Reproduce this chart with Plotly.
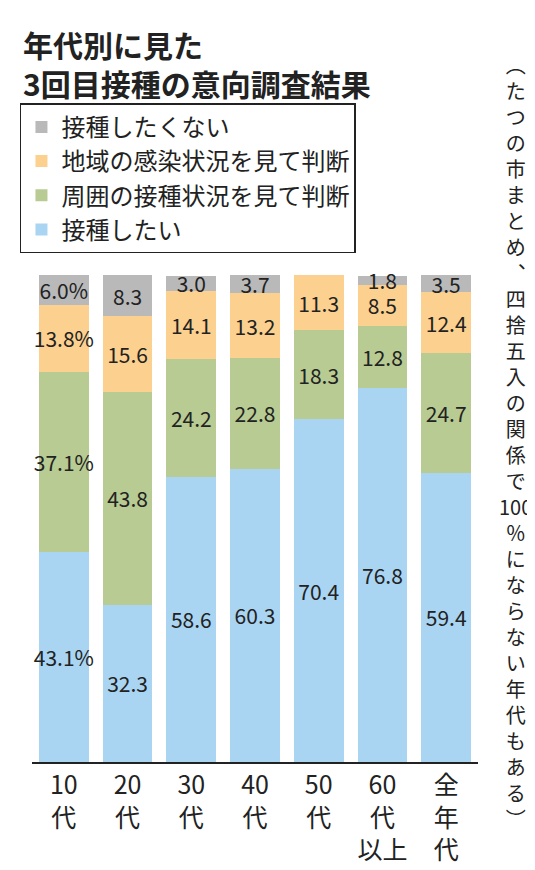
import plotly.graph_objects as go

cats = ["10代", "20代", "30代", "40代", "50代", "60代以上", "全年代"]
tick_labels = ["10<br>代", "20<br>代", "30<br>代", "40<br>代", "50<br>代", "60<br>代<br>以上", "全<br>年<br>代"]
want = [43.1, 32.3, 58.6, 60.3, 70.4, 76.8, 59.4]
around = [37.1, 43.8, 24.2, 22.8, 18.3, 12.8, 24.7]
region = [13.8, 15.6, 14.1, 13.2, 11.3, 8.5, 12.4]
nowant = [6.0, 8.3, 3.0, 3.7, 0, 1.8, 3.5]

series = [
    ("接種したい", want, "#a9d5f2"),
    ("周囲の接種状況を見て判断", around, "#b7cb92"),
    ("地域の感染状況を見て判断", region, "#fcd18f"),
    ("接種したくない", nowant, "#b9b9b9"),
]

F = "Noto Sans CJK JP"
fig = go.Figure()
for name, vals, col in series:
    txt = []
    for i, v in enumerate(vals):
        if v == 0:
            txt.append("")
        elif i == 0:
            txt.append(f"{v:.1f}%")
        else:
            txt.append(f"{v:.1f}")
    fig.add_trace(go.Bar(
        x=cats, y=vals, name=name, marker=dict(color=col, line=dict(width=0)),
        text=txt, textposition="inside", insidetextanchor="middle", textangle=0,
        textfont=dict(family=F, size=21, color="#222"), width=0.78,
        hoverinfo="skip", cliponaxis=False, constraintext="none"))

fig.update_layout(
    barmode="stack", width=535, height=870,
    margin=dict(l=18, r=65, t=265, b=100),
    paper_bgcolor="white", plot_bgcolor="white",
    uniformtext=dict(minsize=20, mode="show"),
    showlegend=True,
    legend=dict(x=-0.027, y=1.347, xanchor="left", yanchor="top",
                traceorder="reversed", bordercolor="#222", borderwidth=1.5,
                font=dict(family=F, size=24, color="#222"), bgcolor="white",
                itemwidth=30, tracegroupgap=0),
    xaxis=dict(tickvals=cats, ticktext=tick_labels, showline=True, linecolor="#222",
               linewidth=2, ticks="", tickfont=dict(family=F, size=25, color="#222")),
    yaxis=dict(range=[0, 100.5], visible=False, showgrid=False),
)
fig.add_annotation(xref="paper", yref="paper", x=-0.025, y=1.517, xanchor="left", yanchor="top",
                   showarrow=False, align="left",
                   text="<b>年代別に見た<br>3回目接種の意向調査結果</b>",
                   font=dict(family=F, size=30, color="#222"))
chars = list("︵たつの市まとめ︑四捨五入の関係で") + ["100"] + list("％にならない年代もある︶")
fig.add_annotation(xref="paper", yref="paper", x=1.085, y=1.46, xanchor="center", yanchor="top",
                   showarrow=False, text="<br>".join(chars),
                   font=dict(family=F, size=20, color="#222"))
fig.write_html("out.html")
